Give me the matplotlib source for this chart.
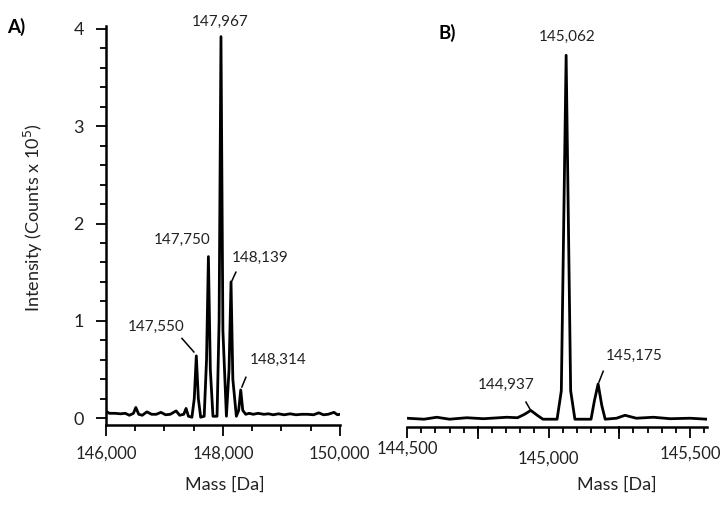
import matplotlib
matplotlib.use("Agg")
import matplotlib.pyplot as plt
import matplotlib.transforms as mtrans
from matplotlib.ticker import MultipleLocator, FuncFormatter

plt.rcParams['font.family'] = ['Lato', 'DejaVu Sans']

# panel A: deconvoluted spectrum, mass (Da) and intensity (counts x 1e5)
mass_a = [146000, 146060, 146150, 146250, 146330, 146400, 146470, 146510, 146560,
          146620, 146700, 146780, 146860, 146940, 147020, 147100, 147200, 147260,
          147330, 147370, 147410, 147470, 147510, 147545, 147580, 147620, 147680,
          147720, 147752, 147785, 147830, 147900, 147935, 147967, 148000, 148060,
          148105, 148139, 148170, 148230, 148270, 148305, 148340, 148390, 148450,
          148520, 148600, 148700, 148780, 148860, 148950, 149050, 149150, 149250,
          149350, 149450, 149550, 149640, 149720, 149800, 149900, 149960, 150000]
int_a = [0.07, 0.05, 0.05, 0.045, 0.05, 0.03, 0.05, 0.11, 0.04,
         0.03, 0.065, 0.04, 0.04, 0.06, 0.035, 0.04, 0.075, 0.03,
         0.04, 0.10, 0.02, 0.01, 0.20, 0.64, 0.20, 0.01, 0.02,
         0.60, 1.66, 0.50, 0.02, 0.02, 1.00, 3.92, 0.90, 0.02,
         0.50, 1.40, 0.40, 0.02, 0.08, 0.29, 0.08, 0.04, 0.05,
         0.04, 0.05, 0.04, 0.045, 0.035, 0.045, 0.035, 0.045, 0.035,
         0.04, 0.04, 0.035, 0.055, 0.035, 0.04, 0.06, 0.035, 0.04]

# panel B
mass_b = [144500, 144560, 144605, 144650, 144711, 144770, 144852, 144890, 144915,
          144937, 144960, 144980, 145030, 145045, 145062, 145078, 145093, 145150,
          145162, 145175, 145188, 145200, 145240, 145270, 145310, 145370, 145430,
          145500, 145560]
int_b = [0.02, 0.01, 0.03, 0.01, 0.025, 0.015, 0.03, 0.025, 0.06,
         0.10, 0.05, 0.01, 0.01, 0.30, 3.73, 0.30, 0.01, 0.01,
         0.20, 0.37, 0.15, 0.01, 0.02, 0.05, 0.02, 0.03, 0.015,
         0.02, 0.01]

# peak labels: text, text position, leader line start/end (None = no line)
labels_a = [("147,967", (147948, 4.07), None),
            ("147,750", (147299, 1.83), None),
            ("148,139", (148632, 1.65), ((148222, 1.50), (148153, 1.41))),
            ("147,550", (146855, 0.94), ((147299, 0.82), (147504, 0.68))),
            ("148,314", (148940, 0.60), ((148393, 0.42), (148324, 0.32)))]
labels_b = [("145,062", (145065, 3.92), None),
            ("144,937", (144850, 0.36), ((144920, 0.185), (144935, 0.11))),
            ("145,175", (145302, 0.66), ((145193, 0.50), (145178, 0.39)))]

fig = plt.figure(figsize=(7.23, 5.08), dpi=100)
ax1 = fig.add_axes([0.1466, 0.163, 0.3234, 0.786])
ax2 = fig.add_axes([0.563, 0.159, 0.415, 0.79])

fmt = FuncFormatter(lambda v, p: f"{int(v):,}")

for ax, m, y, labs in [(ax1, mass_a, int_a, labels_a), (ax2, mass_b, int_b, labels_b)]:
    ax.plot(m, y, color='black', lw=2.0, solid_joinstyle='round')
    ax.set_ylim(-0.072, 4.03)
    for t, (tx, ty), line in labs:
        ax.text(tx, ty, t, ha='center', va='center', fontsize=11, color='#222222')
        if line:
            ax.plot([line[0][0], line[1][0]], [line[0][1], line[1][1]],
                    color='black', lw=1.1)
    for s in ['top', 'right']:
        ax.spines[s].set_visible(False)
    ax.spines['bottom'].set_linewidth(1.8)
    ax.xaxis.set_major_formatter(fmt)
    ax.tick_params(axis='x', which='major', length=8, width=1.3, labelsize=12,
                   pad=7, colors='black', labelcolor='#222222')
    ax.tick_params(axis='x', which='minor', length=4, width=1.3)
    ax.set_xlabel("Mass [Da]", fontsize=13, color='#222222')

# panel A axes
ax1.set_xlim(146000, 150000)
ax1.xaxis.set_major_locator(MultipleLocator(2000))
ax1.xaxis.set_minor_locator(MultipleLocator(500))
ax1.spines['left'].set_linewidth(1.8)
ax1.spines['left'].set_bounds(-0.072, 4.03)
ax1.yaxis.set_major_locator(MultipleLocator(1))
ax1.yaxis.set_minor_locator(MultipleLocator(0.2))
ax1.tick_params(axis='y', which='major', length=7, width=1.3, labelsize=13, pad=9,
                labelcolor='#222222')
ax1.tick_params(axis='y', which='minor', length=4, width=1.3)
ax1.set_ylabel("Intensity (Counts x 10$^5$)", fontsize=13, color='#222222')
ax1.yaxis.set_label_coords(-0.262, 0.52)
ax1.xaxis.set_label_coords(0.51, -0.128)

# panel B axes
ax2.set_xlim(144500, 145560)
ax2.spines['left'].set_visible(False)
ax2.set_yticks([])
ax2.xaxis.set_major_locator(MultipleLocator(500))
ax2.xaxis.set_minor_locator(MultipleLocator(50))
ax2.xaxis.set_label_coords(0.70, -0.122)
# extra longer ticks at each 250 Da
for v in [144750, 145250]:
    ax2.plot([v, v], [0, -0.028], transform=ax2.get_xaxis_transform(),
             color='black', lw=1.3, clip_on=False)

fig.canvas.draw()
# the labels in panel B sit at slightly uneven heights
shifts = {144500: 0.07, 145000: -0.03, 145500: 0.02}
for tick in ax2.xaxis.get_major_ticks():
    v = round(tick.get_loc())
    if v in shifts:
        off = mtrans.ScaledTranslation(0, shifts[v], fig.dpi_scale_trans)
        tick.label1.set_transform(tick.label1.get_transform() + off)

fig.text(0.010, 0.947, "A)", fontsize=13.5, fontweight='bold', va='center')
fig.text(0.606, 0.935, "B)", fontsize=13.5, fontweight='bold', va='center')

fig.savefig("out.png", dpi=100)
